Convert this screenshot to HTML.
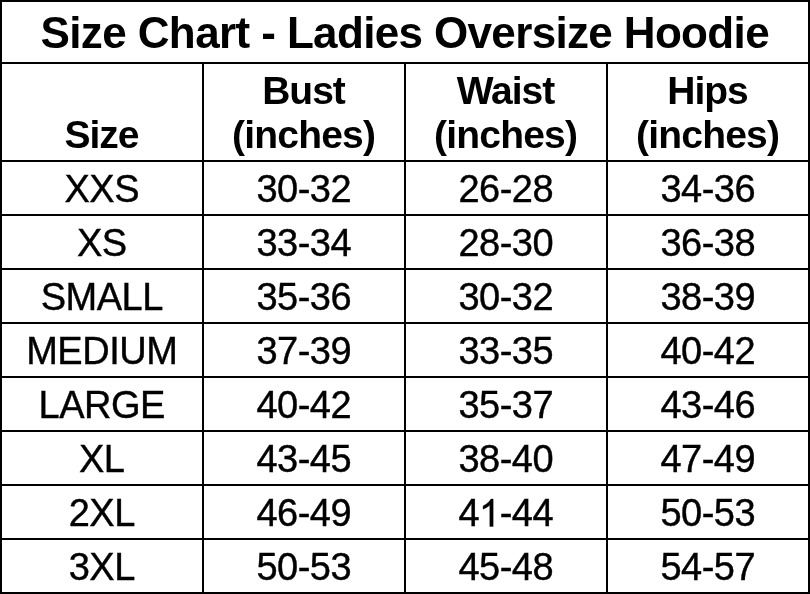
<!DOCTYPE html>
<html><head><meta charset="utf-8"><style>
html,body{margin:0;padding:0;background:#fff;width:810px;height:594px;overflow:hidden}
body{position:relative;font-family:"Liberation Sans",sans-serif;color:#000}
.l{position:absolute;background:#000}
.one{position:relative;color:transparent;-webkit-text-stroke-color:transparent!important}
.one svg{position:absolute;left:0;top:0;overflow:visible}
.t{position:absolute;text-align:center;white-space:nowrap;will-change:transform}
</style></head><body>
<div class="l" style="left:0;top:0px;width:810px;height:2px"></div>
<div class="l" style="left:0;top:62px;width:810px;height:2px"></div>
<div class="l" style="left:0;top:160px;width:810px;height:2px"></div>
<div class="l" style="left:0;top:214px;width:810px;height:2px"></div>
<div class="l" style="left:0;top:268px;width:810px;height:2px"></div>
<div class="l" style="left:0;top:322px;width:810px;height:2px"></div>
<div class="l" style="left:0;top:376px;width:810px;height:2px"></div>
<div class="l" style="left:0;top:430px;width:810px;height:2px"></div>
<div class="l" style="left:0;top:484px;width:810px;height:2px"></div>
<div class="l" style="left:0;top:538px;width:810px;height:2px"></div>
<div class="l" style="left:0;top:592px;width:810px;height:2px"></div>
<div class="l" style="left:0px;top:0px;width:2px;height:594px"></div>
<div class="l" style="left:202px;top:62px;width:2px;height:532px"></div>
<div class="l" style="left:404px;top:62px;width:2px;height:532px"></div>
<div class="l" style="left:606px;top:62px;width:2px;height:532px"></div>
<div class="l" style="left:808px;top:0px;width:2px;height:594px"></div>
<div class="t" style="left:0.0px;width:810px;top:10.76px;font-size:44px;line-height:44px;font-weight:700;letter-spacing:-0.6px;text-indent:-0.6px;-webkit-text-stroke:0px #000">Size Chart - <span style="letter-spacing:-0.65px">Ladies Oversize Hoodie</span></div>
<div class="t" style="left:2px;width:200px;top:114.99px;font-size:39px;line-height:39px;font-weight:700;letter-spacing:-1.0px;text-indent:-1.0px;-webkit-text-stroke:0px #000">Size</div>
<div class="t" style="left:204px;width:200px;top:70.99px;font-size:39px;line-height:39px;font-weight:700;letter-spacing:-1.0px;text-indent:-1.0px;-webkit-text-stroke:0px #000">Bust</div>
<div class="t" style="left:204px;width:200px;top:114.99px;font-size:39px;line-height:39px;font-weight:700;letter-spacing:-0.8px;text-indent:-0.8px;-webkit-text-stroke:0px #000">(inches)</div>
<div class="t" style="left:406px;width:200px;top:70.99px;font-size:39px;line-height:39px;font-weight:700;letter-spacing:-1.0px;text-indent:-1.0px;-webkit-text-stroke:0px #000">Waist</div>
<div class="t" style="left:406px;width:200px;top:114.99px;font-size:39px;line-height:39px;font-weight:700;letter-spacing:-0.8px;text-indent:-0.8px;-webkit-text-stroke:0px #000">(inches)</div>
<div class="t" style="left:608px;width:200px;top:70.99px;font-size:39px;line-height:39px;font-weight:700;letter-spacing:-1.0px;text-indent:-1.0px;-webkit-text-stroke:0px #000">Hips</div>
<div class="t" style="left:608px;width:200px;top:114.99px;font-size:39px;line-height:39px;font-weight:700;letter-spacing:-0.8px;text-indent:-0.8px;-webkit-text-stroke:0px #000">(inches)</div>
<div class="t" style="left:2px;width:200px;top:169.84px;font-size:38px;line-height:38px;font-weight:400;letter-spacing:-0.5px;text-indent:-0.5px;-webkit-text-stroke:0.4px #000">XXS</div>
<div class="t" style="left:204px;width:200px;top:169.84px;font-size:38px;line-height:38px;font-weight:400;letter-spacing:-0.5px;text-indent:-0.5px;-webkit-text-stroke:0.4px #000">30-32</div>
<div class="t" style="left:406px;width:200px;top:169.84px;font-size:38px;line-height:38px;font-weight:400;letter-spacing:-0.5px;text-indent:-0.5px;-webkit-text-stroke:0.4px #000">26-28</div>
<div class="t" style="left:608px;width:200px;top:169.84px;font-size:38px;line-height:38px;font-weight:400;letter-spacing:-0.5px;text-indent:-0.5px;-webkit-text-stroke:0.4px #000">34-36</div>
<div class="t" style="left:2px;width:200px;top:223.84px;font-size:38px;line-height:38px;font-weight:400;letter-spacing:-0.5px;text-indent:-0.5px;-webkit-text-stroke:0.4px #000">XS</div>
<div class="t" style="left:204px;width:200px;top:223.84px;font-size:38px;line-height:38px;font-weight:400;letter-spacing:-0.5px;text-indent:-0.5px;-webkit-text-stroke:0.4px #000">33-34</div>
<div class="t" style="left:406px;width:200px;top:223.84px;font-size:38px;line-height:38px;font-weight:400;letter-spacing:-0.5px;text-indent:-0.5px;-webkit-text-stroke:0.4px #000">28-30</div>
<div class="t" style="left:608px;width:200px;top:223.84px;font-size:38px;line-height:38px;font-weight:400;letter-spacing:-0.5px;text-indent:-0.5px;-webkit-text-stroke:0.4px #000">36-38</div>
<div class="t" style="left:2px;width:200px;top:277.84px;font-size:38px;line-height:38px;font-weight:400;letter-spacing:-0.5px;text-indent:-0.5px;-webkit-text-stroke:0.4px #000">SMALL</div>
<div class="t" style="left:204px;width:200px;top:277.84px;font-size:38px;line-height:38px;font-weight:400;letter-spacing:-0.5px;text-indent:-0.5px;-webkit-text-stroke:0.4px #000">35-36</div>
<div class="t" style="left:406px;width:200px;top:277.84px;font-size:38px;line-height:38px;font-weight:400;letter-spacing:-0.5px;text-indent:-0.5px;-webkit-text-stroke:0.4px #000">30-32</div>
<div class="t" style="left:608px;width:200px;top:277.84px;font-size:38px;line-height:38px;font-weight:400;letter-spacing:-0.5px;text-indent:-0.5px;-webkit-text-stroke:0.4px #000">38-39</div>
<div class="t" style="left:2px;width:200px;top:331.84px;font-size:38px;line-height:38px;font-weight:400;letter-spacing:-0.5px;text-indent:-0.5px;-webkit-text-stroke:0.4px #000">MEDIUM</div>
<div class="t" style="left:204px;width:200px;top:331.84px;font-size:38px;line-height:38px;font-weight:400;letter-spacing:-0.5px;text-indent:-0.5px;-webkit-text-stroke:0.4px #000">37-39</div>
<div class="t" style="left:406px;width:200px;top:331.84px;font-size:38px;line-height:38px;font-weight:400;letter-spacing:-0.5px;text-indent:-0.5px;-webkit-text-stroke:0.4px #000">33-35</div>
<div class="t" style="left:608px;width:200px;top:331.84px;font-size:38px;line-height:38px;font-weight:400;letter-spacing:-0.5px;text-indent:-0.5px;-webkit-text-stroke:0.4px #000">40-42</div>
<div class="t" style="left:2px;width:200px;top:385.84px;font-size:38px;line-height:38px;font-weight:400;letter-spacing:-0.5px;text-indent:-0.5px;-webkit-text-stroke:0.4px #000">LARGE</div>
<div class="t" style="left:204px;width:200px;top:385.84px;font-size:38px;line-height:38px;font-weight:400;letter-spacing:-0.5px;text-indent:-0.5px;-webkit-text-stroke:0.4px #000">40-42</div>
<div class="t" style="left:406px;width:200px;top:385.84px;font-size:38px;line-height:38px;font-weight:400;letter-spacing:-0.5px;text-indent:-0.5px;-webkit-text-stroke:0.4px #000">35-37</div>
<div class="t" style="left:608px;width:200px;top:385.84px;font-size:38px;line-height:38px;font-weight:400;letter-spacing:-0.5px;text-indent:-0.5px;-webkit-text-stroke:0.4px #000">43-46</div>
<div class="t" style="left:2px;width:200px;top:439.84px;font-size:38px;line-height:38px;font-weight:400;letter-spacing:-0.5px;text-indent:-0.5px;-webkit-text-stroke:0.4px #000">XL</div>
<div class="t" style="left:204px;width:200px;top:439.84px;font-size:38px;line-height:38px;font-weight:400;letter-spacing:-0.5px;text-indent:-0.5px;-webkit-text-stroke:0.4px #000">43-45</div>
<div class="t" style="left:406px;width:200px;top:439.84px;font-size:38px;line-height:38px;font-weight:400;letter-spacing:-0.5px;text-indent:-0.5px;-webkit-text-stroke:0.4px #000">38-40</div>
<div class="t" style="left:608px;width:200px;top:439.84px;font-size:38px;line-height:38px;font-weight:400;letter-spacing:-0.5px;text-indent:-0.5px;-webkit-text-stroke:0.4px #000">47-49</div>
<div class="t" style="left:2px;width:200px;top:493.84px;font-size:38px;line-height:38px;font-weight:400;letter-spacing:-0.5px;text-indent:-0.5px;-webkit-text-stroke:0.4px #000">2XL</div>
<div class="t" style="left:204px;width:200px;top:493.84px;font-size:38px;line-height:38px;font-weight:400;letter-spacing:-0.5px;text-indent:-0.5px;-webkit-text-stroke:0.4px #000">46-49</div>
<div class="t" style="left:406px;width:200px;top:493.84px;font-size:38px;line-height:38px;font-weight:400;letter-spacing:-0.5px;text-indent:-0.5px;-webkit-text-stroke:0.4px #000">4<span class="one">1<svg width="21.134" height="42.453" viewBox="0 0 1139 2288"><path fill="#000" stroke="#000" stroke-width="21.6" d="M763 1854H583V707Q518 769 412 831T221 924V750Q371 679 484 578T644 382H763Z"/></svg></span>-44</div>
<div class="t" style="left:608px;width:200px;top:493.84px;font-size:38px;line-height:38px;font-weight:400;letter-spacing:-0.5px;text-indent:-0.5px;-webkit-text-stroke:0.4px #000">50-53</div>
<div class="t" style="left:2px;width:200px;top:547.84px;font-size:38px;line-height:38px;font-weight:400;letter-spacing:-0.5px;text-indent:-0.5px;-webkit-text-stroke:0.4px #000">3XL</div>
<div class="t" style="left:204px;width:200px;top:547.84px;font-size:38px;line-height:38px;font-weight:400;letter-spacing:-0.5px;text-indent:-0.5px;-webkit-text-stroke:0.4px #000">50-53</div>
<div class="t" style="left:406px;width:200px;top:547.84px;font-size:38px;line-height:38px;font-weight:400;letter-spacing:-0.5px;text-indent:-0.5px;-webkit-text-stroke:0.4px #000">45-48</div>
<div class="t" style="left:608px;width:200px;top:547.84px;font-size:38px;line-height:38px;font-weight:400;letter-spacing:-0.5px;text-indent:-0.5px;-webkit-text-stroke:0.4px #000">54-57</div>
</body></html>
